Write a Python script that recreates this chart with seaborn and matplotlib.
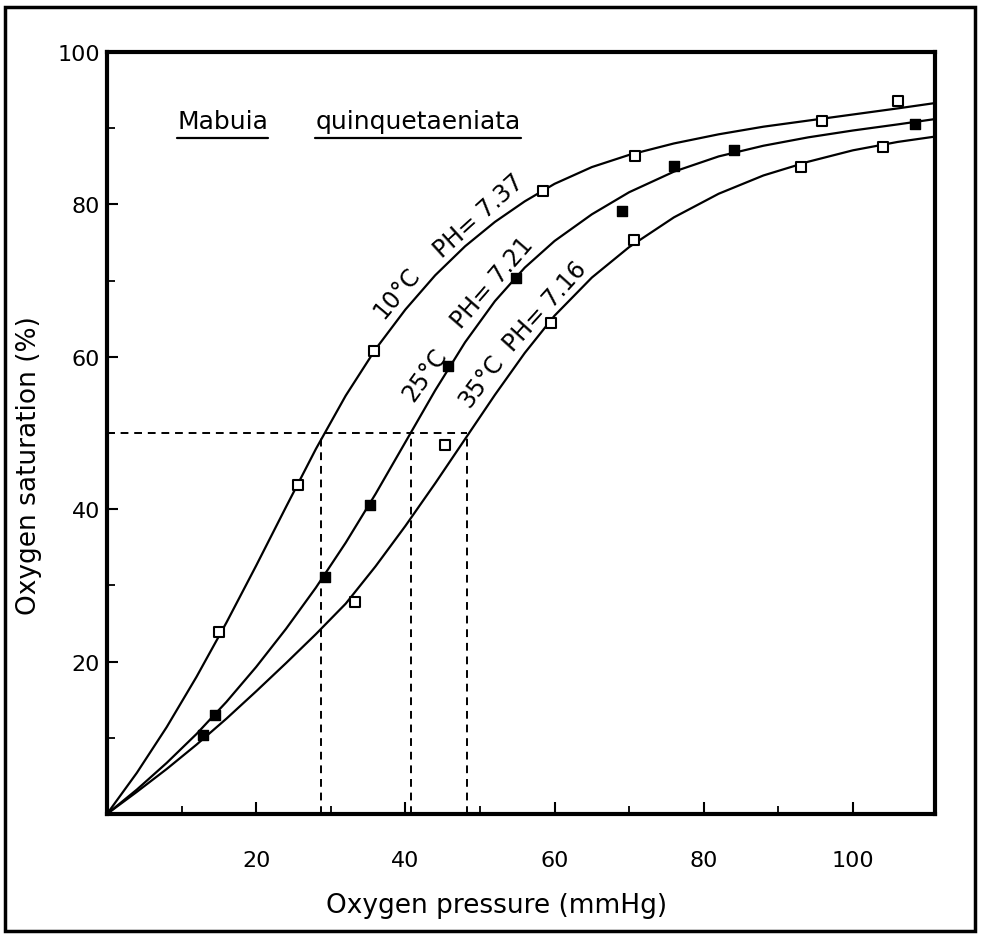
import matplotlib
matplotlib.use("Agg")
import matplotlib.pyplot as plt
import seaborn as sns
import pandas as pd
from matplotlib.patches import Rectangle
from matplotlib.lines import Line2D

# ---------------- data ----------------
pts10_x = [15.0, 25.6, 35.8, 58.4, 70.8, 95.8, 106.0]
pts10_y = [23.9, 43.2, 60.7, 81.8, 86.3, 90.9, 93.6]
pts25_x = [12.9, 14.5, 29.2, 35.3, 45.7, 54.8, 69.0, 76.0, 84.0, 108.3]
pts25_y = [10.4, 13.0, 31.1, 40.5, 58.8, 70.4, 79.1, 85.1, 87.2, 90.6]
pts35_x = [33.3, 45.3, 59.5, 70.7, 93.1, 104.0]
pts35_y = [27.8, 48.4, 64.4, 75.3, 84.9, 87.5]

curve_x = [0, 4, 8, 12, 16, 20, 24, 28, 32, 36, 40, 44, 48, 52, 56, 60, 65, 70, 76, 82, 88, 94, 100, 106, 111]
curve10_y = [0, 5.4, 11.4, 18.0, 25.1, 32.6, 40.3, 47.9, 54.9, 61.0, 66.2, 70.7, 74.5, 77.7, 80.4, 82.7,
             84.9, 86.5, 88.0, 89.2, 90.2, 91.0, 91.8, 92.6, 93.3]
curve25_y = [0, 3.2, 6.7, 10.5, 14.7, 19.3, 24.3, 29.7, 35.6, 42.0, 48.8, 55.6, 61.9, 67.3, 71.7, 75.2,
             78.7, 81.6, 84.3, 86.3, 87.7, 88.8, 89.7, 90.5, 91.2]
curve35_y = [0, 2.9, 5.9, 9.1, 12.5, 16.1, 19.8, 23.6, 27.6, 32.5, 37.8, 43.4, 49.2, 55.0, 60.5, 65.4,
             70.4, 74.4, 78.3, 81.4, 83.8, 85.6, 87.1, 88.2, 88.9]

p50_x = [28.7, 40.7, 48.2]
p50_level = 50

x_ticks = [20, 40, 60, 80, 100]
y_ticks = [20, 40, 60, 80, 100]
minor_ticks = [10, 30, 50, 70, 90]

labels_temp = ["10°C", "25°C", "35°C"]
labels_ph = ["PH= 7.37", "PH= 7.21", "PH= 7.16"]

# ---------------- figure ----------------
sns.set_style("ticks")
plt.rcParams['font.family'] = ['DejaVu Sans']
plt.rcParams.update({"text.color": "black", "axes.labelcolor": "black",
                     "xtick.color": "black", "ytick.color": "black",
                     "axes.edgecolor": "black"})

fig = plt.figure(figsize=(9.89, 9.45), dpi=100)
ax = fig.add_axes([0.1082, 0.1376, 0.8372, 0.8063])

for cy in (curve10_y, curve25_y, curve35_y):
    df = pd.DataFrame({"x": curve_x, "y": cy})
    sns.lineplot(data=df, x="x", y="y", ax=ax, color="black", lw=1.6,
                 sort=False, estimator=None, zorder=2)

# dashed P50 guides
ax.plot([0, max(p50_x)], [p50_level, p50_level], color="black", lw=1.4,
        dashes=(4, 3), zorder=1)
for px in p50_x:
    ax.plot([px, px], [0, p50_level], color="black", lw=1.4, dashes=(4, 3), zorder=1)

# markers
sns.scatterplot(x=pts10_x, y=pts10_y, ax=ax, marker="s", s=55, color="white",
                edgecolor="black", linewidth=1.5, zorder=4)
sns.scatterplot(x=pts35_x, y=pts35_y, ax=ax, marker="s", s=55, color="white",
                edgecolor="black", linewidth=1.5, zorder=4)
sns.scatterplot(x=pts25_x, y=pts25_y, ax=ax, marker="s", s=60, color="black",
                edgecolor="black", linewidth=1.0, zorder=4)

ax.set_xlim(0, 111)
ax.set_ylim(0, 100)
ax.set_xticks(x_ticks)
ax.set_yticks(y_ticks)
ax.set_xticks(minor_ticks, minor=True)
ax.set_yticks(minor_ticks, minor=True)
ax.set_xticklabels([str(t) for t in x_ticks], fontsize=16)
ax.set_yticklabels([str(t) for t in y_ticks], fontsize=16)
ax.tick_params(axis="x", which="major", direction="in", length=9, width=1.5, pad=26,
               bottom=True, top=False)
ax.tick_params(axis="y", which="major", direction="in", length=8, width=1.5, pad=5,
               left=True, right=False)
ax.tick_params(axis="x", which="minor", direction="in", length=6, width=1.3, bottom=True, top=False)
ax.tick_params(axis="y", which="minor", direction="in", length=6, width=1.3, left=True, right=False)
for s in ax.spines.values():
    s.set_visible(True)
    s.set_linewidth(3)
    s.set_color("black")

ax.set_xlabel("Oxygen pressure (mmHg)", fontsize=19)
ax.set_ylabel("Oxygen saturation (%)", fontsize=19)
ax.xaxis.set_label_coords(0.471, -0.102)
ax.yaxis.set_label_coords(-0.0785, 0.459)

# curve annotations
ax.text(38.8, 68.5, labels_temp[0], rotation=50, ha="center", va="center",
        rotation_mode="anchor", fontsize=17)
ax.text(49.8, 78.5, labels_ph[0], rotation=42, ha="center", va="center",
        rotation_mode="anchor", fontsize=17)
ax.text(42.6, 57.7, labels_temp[1], rotation=54, ha="center", va="center",
        rotation_mode="anchor", fontsize=17)
ax.text(51.6, 69.8, labels_ph[1], rotation=49, ha="center", va="center",
        rotation_mode="anchor", fontsize=17)
ax.text(50.2, 56.9, labels_temp[2], rotation=53, ha="center", va="center",
        rotation_mode="anchor", fontsize=17)
ax.text(58.7, 66.7, labels_ph[2], rotation=48, ha="center", va="center",
        rotation_mode="anchor", fontsize=17)

# species name, underlined
t1 = ax.text(15.5, 90.9, "Mabuia", ha="center", va="center", fontsize=18)
t2 = ax.text(41.7, 90.9, "quinquetaeniata", ha="center", va="center", fontsize=18)

# outer frame around the figure
fig.patches.append(Rectangle((0.005, 0.0138), 0.981, 0.978, transform=fig.transFigure,
                             fill=False, lw=2.5, edgecolor="black"))

fig.canvas.draw()
renderer = fig.canvas.get_renderer()
for t in (t1, t2):
    bb = t.get_window_extent(renderer)
    yline = bb.y0 - 5
    fig.add_artist(Line2D([bb.x0, bb.x1], [yline, yline], transform=None,
                          color="black", lw=1.6))

fig.savefig("out.png", dpi=100)
